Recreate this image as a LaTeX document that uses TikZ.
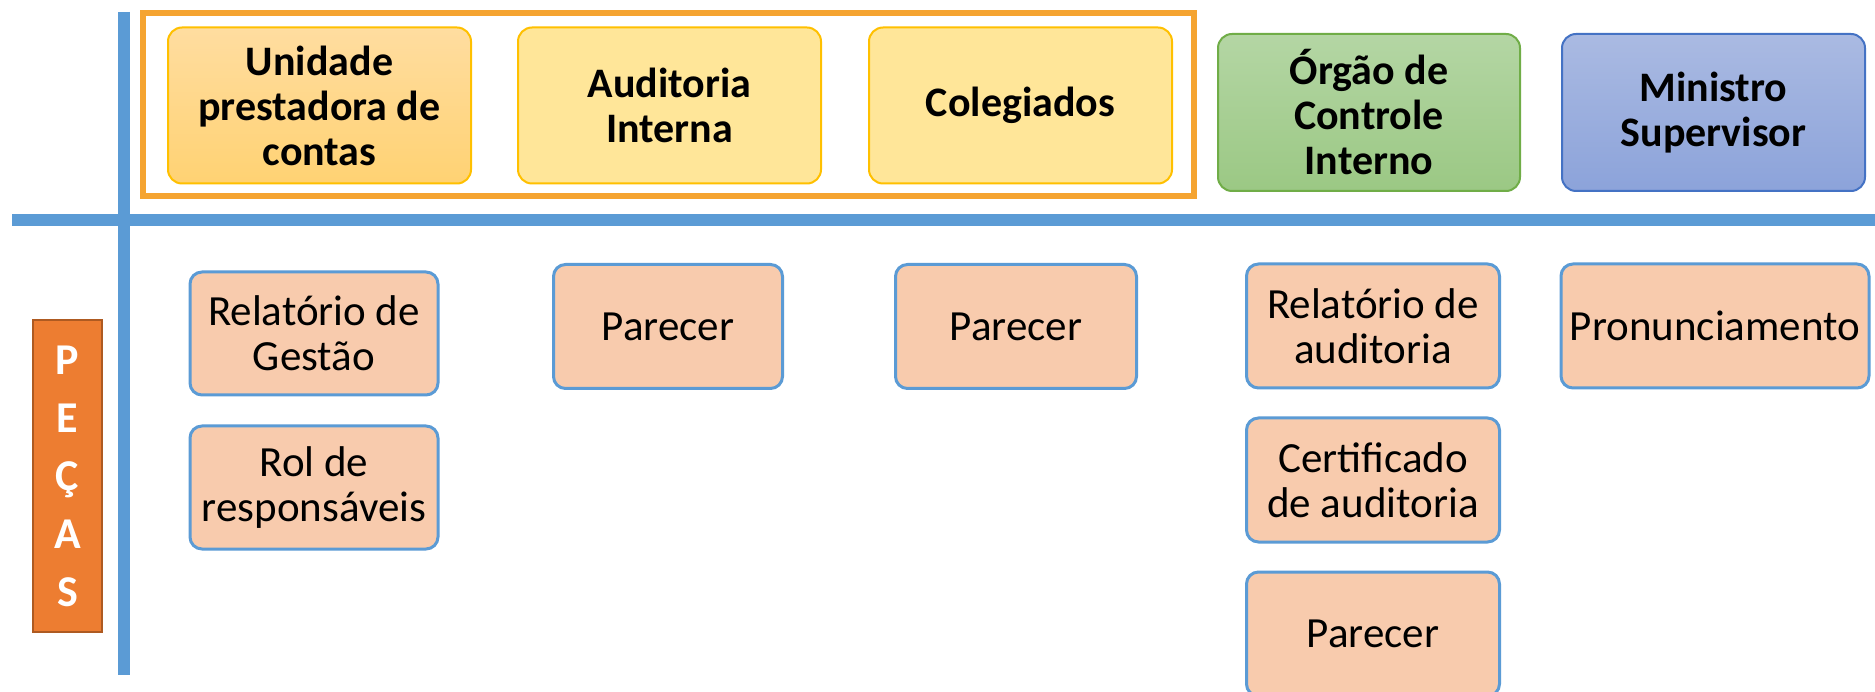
\documentclass[tikz,border=0pt]{standalone}
\usepackage{fontspec}
\setmainfont{Carlito}
\definecolor{lineblue}{HTML}{5B9BD5}
\definecolor{grouporange}{HTML}{F5A431}
\definecolor{gold}{HTML}{FFC000}
\definecolor{yellowA}{HTML}{FFDDA0}
\definecolor{yellowB}{HTML}{FFD273}
\definecolor{yellowflat}{HTML}{FFE699}
\definecolor{greenA}{HTML}{B4D6A4}
\definecolor{greenB}{HTML}{9BC884}
\definecolor{greenborder}{HTML}{70AD47}
\definecolor{blueA}{HTML}{AABAE2}
\definecolor{blueB}{HTML}{8CA3DA}
\definecolor{blueborder}{HTML}{4472C4}
\definecolor{peach}{HTML}{F8CBAD}
\definecolor{pecasfill}{HTML}{ED7D31}
\definecolor{pecasborder}{HTML}{AE5A21}
\tikzset{
  headbox/.style={rectangle, rounded corners=14pt, line width=2pt, align=center,
    inner sep=0pt, minimum width=303pt, minimum height=156pt,
    font=\bfseries\fontsize{42}{45}\selectfont},
  piecebox/.style={rectangle, rounded corners=12pt, line width=3pt, draw=lineblue,
    fill=peach, align=center, inner sep=0pt, minimum height=124pt,
    font=\fontsize{43}{45}\selectfont},
  axisline/.style={line width=12pt, draw=lineblue}
}
\begin{document}
\begin{tikzpicture}[x=1pt,y=-1pt]
\clip (0,0) rectangle (1875,692);
\fill[white] (0,0) rectangle (1875,692);
% axes
\coordinate (vtop) at (124,12);
\coordinate (vbot) at (124,675);
\coordinate (hleft) at (12,220.5);
\coordinate (hright) at (1875,220.5);
\draw[axisline] (vtop) -- (vbot);
\draw[axisline] (hleft) -- (hright);
% orange group
\draw[grouporange, line width=6pt] (143,13.5) rectangle (1194,196);
% header boxes
\node[headbox, draw=gold, top color=yellowA, bottom color=yellowB] (upc) at (319.5,105.5) {Unidade\\prestadora de\\contas};
\node[headbox, draw=gold, fill=yellowflat] (aud) at (669.5,105.5) {Auditoria\\Interna};
\node[headbox, draw=gold, fill=yellowflat] (col) at (1020.5,105.5) {Colegiados};
\node[headbox, draw=greenborder, top color=greenA, bottom color=greenB, minimum width=302pt, minimum height=157pt] (oci) at (1369,112.5) {Órgão de\\Controle\\Interno};
\node[headbox, draw=blueborder, top color=blueA, bottom color=blueB, minimum height=157pt] (min) at (1713.5,112.5) {Ministro\\Supervisor};
% PEÇAS
\node[rectangle, fill=pecasfill, draw=pecasborder, line width=2pt, minimum width=69pt, minimum height=312pt, inner sep=0pt] (pecasbox) at (67.5,476) {};
\node[align=center, text=white, inner sep=0pt, font=\bfseries\fontsize{44}{58}\selectfont] (pecas) at (67.5,476) {P\\E\\Ç\\A\\S};
% pieces
\node[piecebox, minimum width=248pt, minimum height=123pt] (relgest) at (314,333.5) {Relatório de\\Gestão};
\node[piecebox, minimum width=248pt, minimum height=123pt] (rol) at (314,487.5) {Rol de\\responsáveis};
\node[piecebox, minimum width=229pt] (par1) at (668,326.5) {Parecer};
\node[piecebox, minimum width=241pt] (par2) at (1016,326.5) {Parecer};
\node[piecebox, minimum width=253pt] (relaud) at (1373,326) {Relatório de\\auditoria};
\node[piecebox, minimum width=253pt] (cert) at (1373,480) {Certificado\\de auditoria};
\node[piecebox, minimum width=253pt] (par3) at (1373,634) {Parecer};
\node[piecebox, minimum width=308pt] (pron) at (1715,326) {Pronunciamento};
\end{tikzpicture}
\end{document}
